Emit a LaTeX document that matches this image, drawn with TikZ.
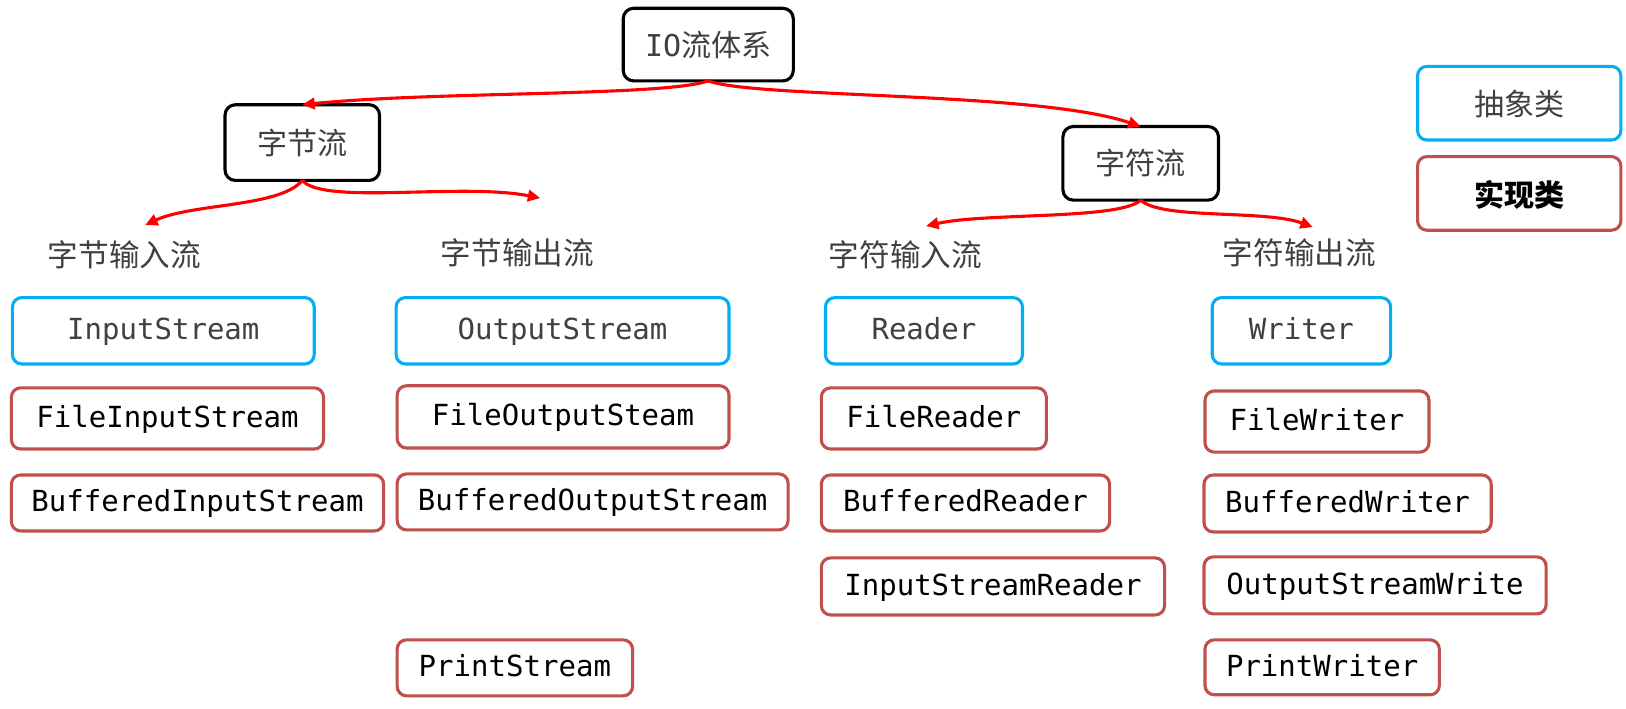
\documentclass[tikz,border=0pt]{standalone}
\usepackage{fontspec}
\newfontfamily\cjk{Noto Sans CJK SC}
\newfontfamily\mono{DejaVu Sans Mono}
\usetikzlibrary{arrows.meta}
\definecolor{absblue}{HTML}{00B0F0}
\definecolor{implred}{HTML}{C0504D}
\definecolor{txtgray}{HTML}{404040}
\definecolor{arrred}{HTML}{FF0000}
\begin{document}
\begin{tikzpicture}[x=1pt,y=-1pt,
  every node/.style={inner sep=0pt, outer sep=0pt},
  catbox/.style={draw=black, line width=3pt, rounded corners=10pt, text=txtgray,
     font=\cjk\fontsize{29}{32}\selectfont},
  catlabel/.style={text=txtgray, font=\cjk\fontsize{29.5}{32}\selectfont},
  absbox/.style={draw=absblue, line width=3pt, rounded corners=9pt, text=txtgray,
     font=\mono\fontsize{28}{31}\selectfont, text depth=4pt},
  implbox/.style={draw=implred, line width=3pt, rounded corners=9pt, text=black,
     font=\mono\fontsize{28}{31}\selectfont, text depth=4pt},
  flow/.style={draw=arrred, line width=3pt, -{Triangle[length=12pt,width=11pt]}}
]
\useasboundingbox (0,0) rectangle (1568,683);

% category nodes
\node[catbox, minimum width=164pt, minimum height=70pt] (io) at (683,43) {{\mono IO}流体系};
\node[catbox, minimum width=149pt, minimum height=73pt] (zj) at (291.5,137.5) {字节流};
\node[catbox, minimum width=150pt, minimum height=71pt] (zf) at (1100,157.5) {字符流};

% legend
\node[absbox, font=\cjk\fontsize{29}{32}\selectfont, text depth=0pt, minimum width=196pt, minimum height=71pt] (legabs) at (1465,99.5) {抽象类};
\node[implbox, font=\cjk\bfseries\fontsize{29}{32}\selectfont, text depth=0pt, minimum width=196pt, minimum height=71pt] (legimpl) at (1465,186.5) {实现类};

% labels
\node[catlabel] (zjin) at (120,246) {字节输入流};
\node[catlabel] (zjout) at (499,244) {字节输出流};
\node[catlabel] (zfin) at (873,246) {字符输入流};
\node[catlabel] (zfout) at (1253,244) {字符输出流};

\coordinate (zjinT) at (140,217);
\coordinate (zjoutT) at (521,191);
\coordinate (zfinT) at (893,218);
\coordinate (zfoutT) at (1266,219);

% abstract classes
\node[absbox, minimum width=291pt, minimum height=64pt] (is) at (157.5,319) {InputStream};
\node[absbox, minimum width=321pt, minimum height=64pt] (os) at (542.5,319) {OutputStream};
\node[absbox, minimum width=190pt, minimum height=64pt] (rd) at (891,319) {Reader};
\node[absbox, minimum width=172pt, minimum height=64pt] (wr) at (1255,319) {Writer};

% implementations
\node[implbox, minimum width=301pt, minimum height=59pt] (fis) at (161.5,403.5) {FileInputStream};
\node[implbox, minimum width=320pt, minimum height=60pt] (fos) at (543,402) {FileOutputSteam};
\node[implbox, minimum width=217pt, minimum height=59pt] (fr) at (900.5,403.5) {FileReader};
\node[implbox, minimum width=216pt, minimum height=59pt] (fw) at (1270,406.5) {FileWriter};

\node[implbox, minimum width=359pt, minimum height=54pt] (bis) at (190.5,485) {BufferedInputStream};
\node[implbox, minimum width=377pt, minimum height=54pt] (bos) at (571.5,484) {BufferedOutputStream};
\node[implbox, minimum width=278pt, minimum height=54pt] (br) at (931,485) {BufferedReader};
\node[implbox, minimum width=277pt, minimum height=55pt] (bw) at (1299.5,485.5) {BufferedWriter};

\node[implbox, minimum width=331pt, minimum height=55pt] (isr) at (957.5,565.5) {InputStreamReader};
\node[implbox, minimum width=330pt, minimum height=55pt] (osw) at (1326,564.5) {OutputStreamWrite};

\node[implbox, minimum width=227pt, minimum height=54pt] (ps) at (496.5,644) {PrintStream};
\node[implbox, minimum width=226pt, minimum height=53pt] (pw) at (1275,643.5) {PrintWriter};

% connectors
\draw[flow] (io.south) .. controls (640,93) and (420,88) .. (zj.north);
\draw[flow] (io.south) .. controls (730,95) and (1000,88) .. (zf.north);
\draw[flow] (zj.south) .. controls (270,200) and (185,196) .. (zjinT);
\draw[flow] (zj.south) .. controls (312,198) and (445,176) .. (zjoutT);
\draw[flow] (zf.south) .. controls (1080,212) and (950,205) .. (zfinT);
\draw[flow] (zf.south) .. controls (1120,212) and (1220,202) .. (zfoutT);
\end{tikzpicture}
\end{document}
